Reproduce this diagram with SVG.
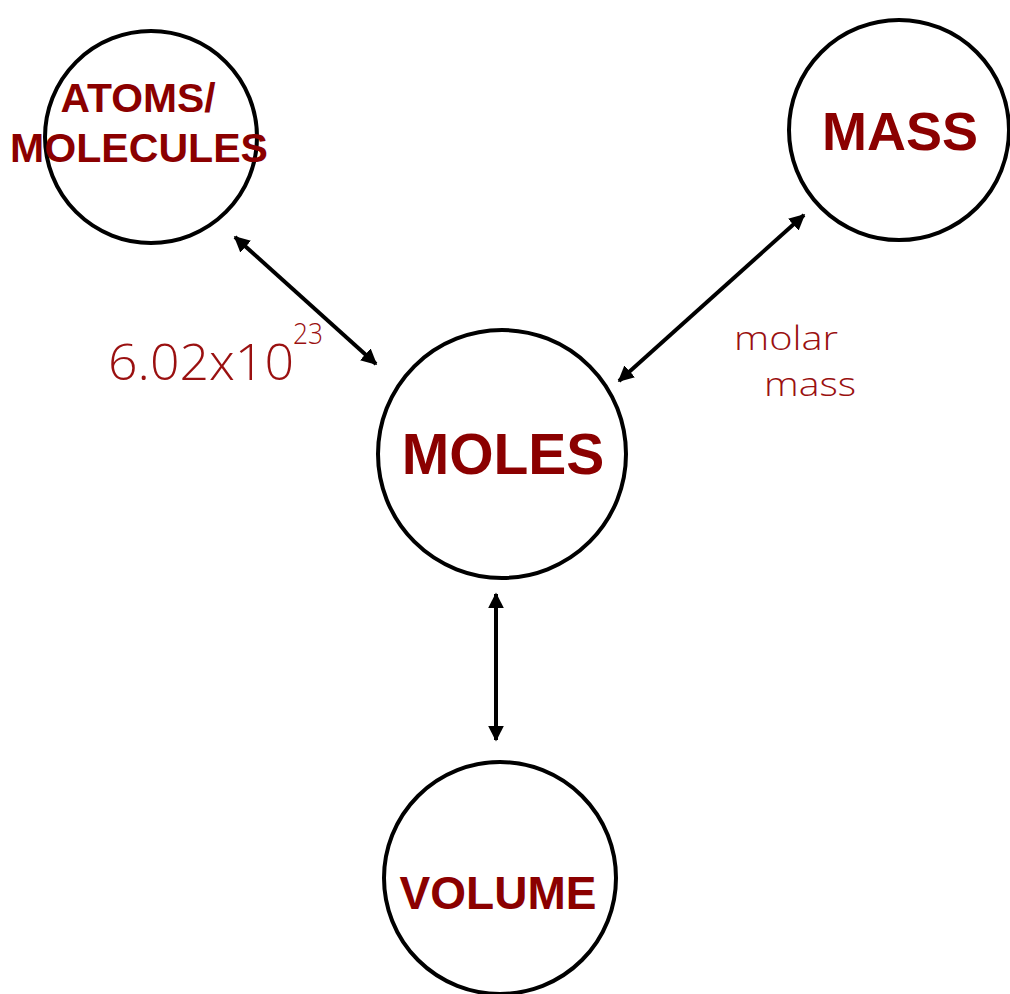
<svg xmlns="http://www.w3.org/2000/svg" width="1010" height="994" viewBox="0 0 1010 994">
<style>
.node circle{fill:#fff;stroke:#000;stroke-width:4}
.lbl{font-family:"Liberation Sans",Arial,sans-serif;font-weight:bold;fill:#8b0000;text-anchor:middle}
.hand{font-family:"Open Sans","DejaVu Sans",sans-serif;font-weight:300;fill:#9a1010}
.conn line{stroke:#000;stroke-width:4;marker-start:url(#ah);marker-end:url(#ah)}
</style>
<defs>
<marker id="ah" viewBox="0 0 10 10" refX="9" refY="5" markerWidth="4" markerHeight="4" orient="auto-start-reverse" markerUnits="strokeWidth">
<path d="M0,0 L10,5 L0,10 z" fill="#000"/>
</marker>
</defs>
<rect width="1010" height="994" fill="#fff"/>
<g id="atoms" class="node">
<circle cx="151" cy="137" r="106"/>
<text class="lbl" x="138" y="112" font-size="40" textLength="155" lengthAdjust="spacingAndGlyphs">ATOMS/</text>
<text class="lbl" x="139" y="162" font-size="41" textLength="258" lengthAdjust="spacingAndGlyphs">MOLECULES</text>
</g>
<g id="mass" class="node">
<circle cx="899" cy="130" r="110"/>
<text class="lbl" x="900" y="150" font-size="54">MASS</text>
</g>
<g id="moles" class="node">
<circle cx="502" cy="454" r="124"/>
<text class="lbl" x="503" y="474" font-size="57">MOLES</text>
</g>
<g id="volume" class="node">
<circle cx="500" cy="878" r="116"/>
<text class="lbl" x="498" y="909" font-size="46">VOLUME</text>
</g>
<g id="connectors" class="conn">
<line x1="235" y1="237" x2="376" y2="364"/>
<line x1="804" y1="215" x2="619" y2="381"/>
<line x1="496" y1="594" x2="496" y2="740"/>
</g>
<g id="labels">
<text class="hand" x="108" y="380" font-size="50" textLength="186" lengthAdjust="spacingAndGlyphs">6.02x10</text>
<text class="hand" x="293" y="344" font-size="30" textLength="30" lengthAdjust="spacingAndGlyphs">23</text>
<text class="hand" x="734" y="350" font-size="33" textLength="104" lengthAdjust="spacingAndGlyphs">molar</text>
<text class="hand" x="764" y="396" font-size="33" textLength="92" lengthAdjust="spacingAndGlyphs">mass</text>
</g>
</svg>
